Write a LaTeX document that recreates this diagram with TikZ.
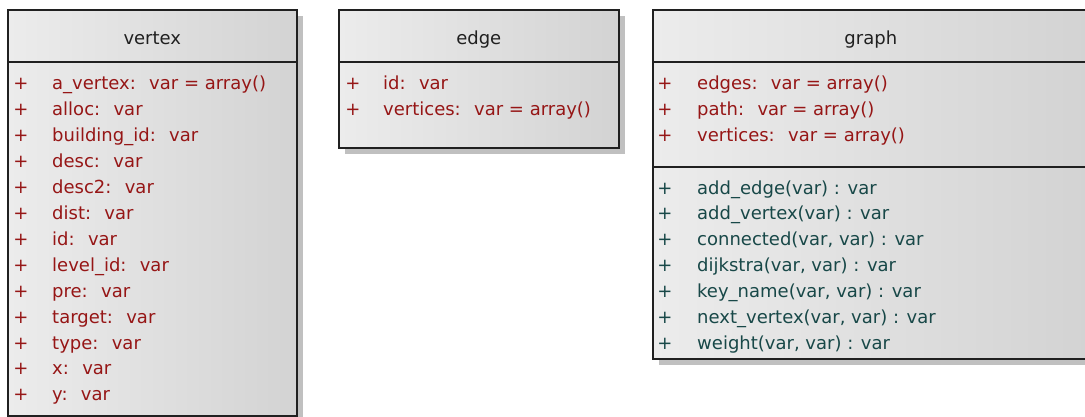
\documentclass[tikz,border=0pt]{standalone}
\usepackage{fontspec}
\setmainfont{DejaVu Sans}
\usetikzlibrary{shadows}

\definecolor{attrred}{RGB}{150,22,22}
\definecolor{opteal}{RGB}{24,72,72}
\definecolor{framec}{RGB}{32,32,32}
\definecolor{shadowc}{RGB}{192,192,192}
\definecolor{fillleft}{RGB}{236,236,236}
\definecolor{fillright}{RGB}{211,211,211}

\tikzset{
  classbox/.style={draw=framec, line width=1.6pt, left color=fillleft, right color=fillright,
    anchor=north west, inner sep=0pt,
    drop shadow={shadow xshift=6pt, shadow yshift=-6pt, fill=shadowc, opacity=1}},
  sepline/.style={draw=framec, line width=1.6pt},
  txt/.style={inner sep=0pt, text height=14pt, text depth=4pt, font=\fontsize{18}{20}\selectfont},
  title/.style={txt, text=framec},
  vis/.style={txt, anchor=center},
  attrtext/.style={txt, anchor=west, text=attrred},
  optext/.style={txt, anchor=west, text=opteal},
}

\begin{document}
\begin{tikzpicture}[x=1pt, y=-1pt]
  \clip (0,0) rectangle (1085,417);

  % class boxes
  \node[classbox, minimum width=289pt, minimum height=406pt] (vertex) at (7,9) {};
  \node[classbox, minimum width=280pt, minimum height=138pt] (edge) at (338,9) {};
  \node[classbox, minimum width=436pt, minimum height=349pt] (graph) at (652,9) {};

  % compartment separators
  \draw[sepline] (vertex.west |- 0,62) -- (vertex.east |- 0,62);
  \draw[sepline] (edge.west |- 0,62) -- (edge.east |- 0,62);
  \draw[sepline] (graph.west |- 0,62) -- (graph.east |- 0,62);
  \draw[sepline] (graph.west |- 0,167) -- (graph.east |- 0,167);

  % class names
  \node[title] (vertexname) at (vertex.north |- 0,40) {vertex};
  \node[title] (edgename) at (edge.north |- 0,40) {edge};
  \node[title] (graphname) at (graph.north |- 0,40) {graph};

  % vertex attributes
  \foreach \t [count=\i from 0] in {
      a\_vertex:~ var = array(), alloc:~ var, building\_id:~ var, desc:~ var,
      desc2:~ var, dist:~ var, id:~ var, level\_id:~ var, pre:~ var,
      target:~ var, type:~ var, x:~ var, y:~ var} {
    \node[vis, text=attrred] (vplus\i) at (21, 85+25.9*\i) {+};
    \node[attrtext] (vattr\i) at (52, 85+25.9*\i) {\t};
  }

  % edge attributes
  \foreach \t [count=\i from 0] in {id:~ var, vertices:~ var = array()} {
    \node[vis, text=attrred] (eplus\i) at (353, 85+25.9*\i) {+};
    \node[attrtext] (eattr\i) at (383, 85+25.9*\i) {\t};
  }

  % graph attributes
  \foreach \t [count=\i from 0] in {edges:~ var = array(), path:~ var = array(),
      vertices:~ var = array()} {
    \node[vis, text=attrred] (gplus\i) at (665, 85+25.9*\i) {+};
    \node[attrtext] (gattr\i) at (697, 85+25.9*\i) {\t};
  }

  % graph operations
  \foreach \t [count=\i from 0] in {
      add\_edge(var) : var, add\_vertex(var) : var,
      {connected(var, var) : var}, {dijkstra(var, var) : var},
      {key\_name(var, var) : var}, {next\_vertex(var, var) : var},
      {weight(var, var) : var}} {
    \node[vis, text=opteal] (oplus\i) at (665, 189+25.9*\i) {+};
    \node[optext] (gop\i) at (697, 189+25.9*\i) {\t};
  }
\end{tikzpicture}
\end{document}
